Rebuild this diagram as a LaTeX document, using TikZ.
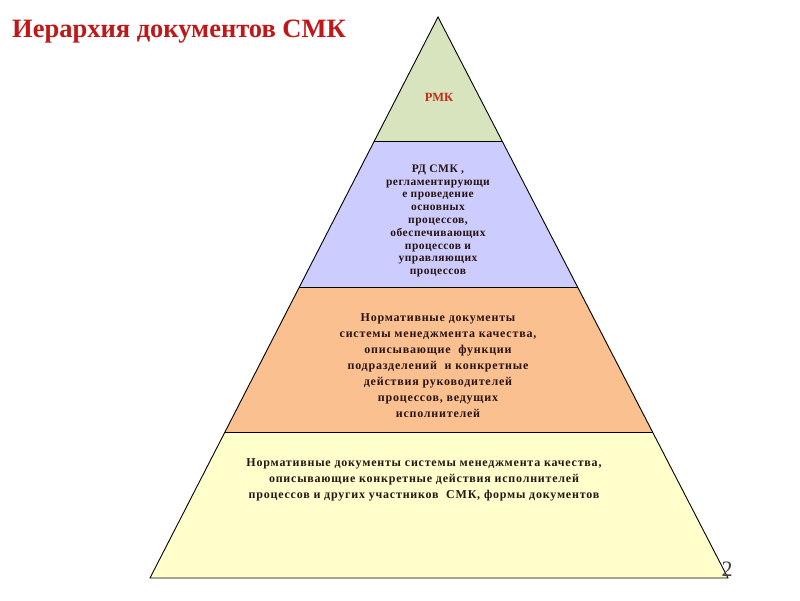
\documentclass[tikz,border=0pt]{standalone}
\usepackage{fontspec}
\setmainfont{Liberation Serif}
\definecolor{titlered}{RGB}{192,24,24}
\definecolor{pmkred}{RGB}{190,45,25}
\definecolor{txtdark}{RGB}{40,20,20}
\definecolor{lgreen}{RGB}{215,228,189}
\definecolor{lpurple}{RGB}{204,204,255}
\definecolor{lorange}{RGB}{250,192,144}
\definecolor{lyellow}{RGB}{255,255,204}
\tikzset{
  layer/.style={draw=black, line width=0.9pt, line join=miter},
  textA/.style={align=center, text=txtdark, inner sep=0pt,
    font=\bfseries\fontsize{11.5}{12.8}\selectfont\addfontfeature{LetterSpace=4}},
  textB/.style={align=center, text=txtdark, inner sep=0pt,
    font=\bfseries\fontsize{12}{16}\selectfont\addfontfeature{LetterSpace=6.5}},
}
\begin{document}
\begin{tikzpicture}[x=1pt,y=-1pt]
\useasboundingbox[fill=white] (0,0) rectangle (800,600);
\coordinate (A) at (438,17);
\coordinate (L1) at (374,141); \coordinate (R1) at (502,141);
\coordinate (L2) at (299,287); \coordinate (R2) at (578,287);
\coordinate (L3) at (225,432); \coordinate (R3) at (653,432);
\coordinate (L4) at (150,578); \coordinate (R4) at (728,578);
\fill[lgreen] (A) -- (R1) -- (L1) -- cycle;
\fill[lpurple] (L1) -- (R1) -- (R2) -- (L2) -- cycle;
\fill[lorange] (L2) -- (R2) -- (R3) -- (L3) -- cycle;
\fill[lyellow] (L3) -- (R3) -- (R4) -- (L4) -- cycle;
\draw[layer] (A) -- (R4) -- (L4) -- cycle;
\draw[layer] (L1) -- (R1);
\draw[layer] (L2) -- (R2);
\draw[layer] (L3) -- (R3);
\node[anchor=west, text=titlered, inner sep=0pt,
  font=\bfseries\fontsize{26.5}{30}\selectfont] (title) at (12,32) {Иерархия документов СМК};
\node[text=pmkred, inner sep=0pt, font=\bfseries\fontsize{12.5}{14}\selectfont] (pmk) at (439,97) {РМК};
\node[textA] (rd) at (438,221) {РД СМК ,\\регламентирующи\\е проведение\\основных\\процессов,\\обеспечивающих\\процессов и\\управляющих\\процессов};
\node[textB] (nd) at (438,366) {Нормативные документы\\системы менеджмента качества,\\описывающие\ \ функции\\подразделений\ \ и конкретные\\действия руководителей\\процессов, ведущих\\исполнителей};
\node[textB] (nd2) at (424,480) {Нормативные документы системы менеджмента качества,\\описывающие конкретные действия исполнителей\\процессов и других участников\ \ СМК, формы документов};
\node[text=black!75, inner sep=0pt, font=\fontsize{22}{24}\selectfont] (pg) at (727,569) {2};
\end{tikzpicture}
\end{document}
